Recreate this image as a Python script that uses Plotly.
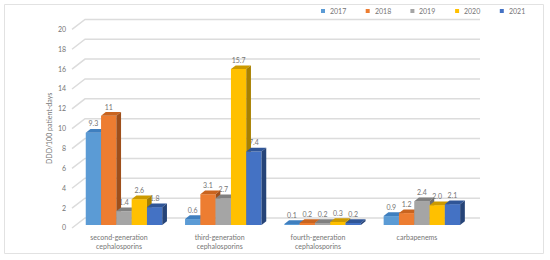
import plotly.graph_objects as go

categories = ["second-generation<br>cephalosporins", "third-generation<br>cephalosporins",
              "fourth-generation<br>cephalosporins", "carbapenems"]
years = ["2017", "2018", "2019", "2020", "2021"]
v2017 = [9.3, 0.6, 0.1, 0.9]
v2018 = [11, 3.1, 0.2, 1.2]
v2019 = [1.4, 2.7, 0.2, 2.4]
v2020 = [2.6, 15.7, 0.3, 2.0]
v2021 = [1.8, 7.4, 0.2, 2.1]
series = [v2017, v2018, v2019, v2020, v2021]
labels = [["9.3", "0.6", "0.1", "0.9"], ["11", "3.1", "0.2", "1.2"], ["1.4", "2.7", "0.2", "2.4"],
          ["2.6", "15.7", "0.3", "2.0"], ["1.8", "7.4", "0.2", "2.1"]]
y_ticks = list(range(0, 21, 2))

front = ["#5B9BD5", "#ED7D31", "#A5A5A5", "#FFC000", "#4472C4"]
top = ["#3F7FBF", "#C9641F", "#808080", "#CC9A00", "#2F5597"]
side = ["#2E6DA8", "#9E4F1B", "#6E6E6E", "#A88000", "#264478"]
TXT = "#757575"
FONT = "Lato"
FS = 7

W, H = 550, 260
X0, STEP = 124.0, 99.3      # pixel of first group centre, pixels between groups
Y0, UNIT = 225.0, 9.93      # pixel of the bar baseline, pixels per value unit
BW = 15.3 / STEP
DX, DY = 4.7 / STEP, 3.7 / UNIT

def px_x(p):
    return (p - X0) / STEP

fig = go.Figure()

# back wall: gridlines with the diagonal run to the front plane
gx, gy = [], []
for t in y_ticks:
    gx += [px_x(72), px_x(85), px_x(480), None]
    gy += [t - 3 / UNIT, t + 7 / UNIT, t + 7 / UNIT, None]
fig.add_trace(go.Scatter(x=gx, y=gy, mode="lines", line=dict(color="#DCDCDC", width=1.5),
                         hoverinfo="skip", showlegend=False))

# value labels sit behind all the bars, as in the reference
for i, vals in enumerate(series):
    fig.add_trace(go.Scatter(x=[k + (i - 2) * BW for k in range(4)],
                             y=[v + 8 / UNIT for v in vals], mode="text", text=labels[i],
                             textposition="middle center",
                             textfont=dict(family=FONT, size=FS, color=TXT),
                             hoverinfo="skip", showlegend=False))

# invisible trace that carries the tick-label axis
fig.add_trace(go.Scatter(x=[0], y=[0], yaxis="y2", mode="markers", marker=dict(opacity=0),
                         hoverinfo="skip", showlegend=False))

# one overlay per series so later series paint over earlier ones
for i, vals in enumerate(series):
    ya = f"y{i + 3}"
    fig.add_trace(go.Bar(x=[k + (i - 2) * BW for k in range(4)], y=vals, width=BW, yaxis=ya, name=years[i],
                         marker=dict(color=front[i], line=dict(width=0)), showlegend=False))
    for k, v in enumerate(vals):
        xl = k + (i - 2) * BW - BW / 2
        xr = xl + BW
        fig.add_trace(go.Scatter(x=[xl, xl + DX, xr + DX, xr, xl], y=[v, v + DY, v + DY, v, v], yaxis=ya,
                                 mode="lines", fill="toself", fillcolor=top[i], line=dict(width=0),
                                 hoverinfo="skip", showlegend=False))
        fig.add_trace(go.Scatter(x=[xr, xr + DX, xr + DX, xr, xr], y=[0, DY, v + DY, v, 0], yaxis=ya,
                                 mode="lines", fill="toself", fillcolor=side[i], line=dict(width=0),
                                 hoverinfo="skip", showlegend=False))

y_range = [(Y0 - H) / UNIT, Y0 / UNIT]
layout = dict(
    width=W, height=H, margin=dict(l=0, r=0, t=0, b=0),
    paper_bgcolor="white", plot_bgcolor="rgba(0,0,0,0)", showlegend=False, barmode="overlay",
    font=dict(family=FONT, size=FS, color=TXT),
    xaxis=dict(range=[px_x(0), px_x(W)], domain=[0, 1], anchor="free", position=(H - 232) / H,
               tickmode="array", tickvals=[px_x(119), px_x(219.7), px_x(318), px_x(417)],
               ticktext=categories, showgrid=False, zeroline=False, showline=False, ticks="",
               tickfont=dict(family=FONT, size=FS, color=TXT), fixedrange=True),
    yaxis=dict(range=y_range, domain=[0, 1], visible=False, fixedrange=True),
    yaxis2=dict(range=[(228 - H) / UNIT, (228 - 3) / UNIT], domain=[0, 1 - 3 / H], anchor="free",
                position=66 / W, side="left", tickmode="array", tickvals=y_ticks, showgrid=False,
                zeroline=False, showline=False, ticks="", tickfont=dict(family=FONT, size=FS, color=TXT),
                fixedrange=True),
)
for i in range(5):
    layout[f"yaxis{i + 3}"] = dict(range=y_range, overlaying="y", visible=False, fixedrange=True)

shapes = [dict(type="rect", xref="paper", yref="paper", x0=4.5 / W, x1=543.5 / W, y0=1 - 253.5 / H, y1=1 - 4.5 / H,
               line=dict(color="#E2E2E2", width=1), fillcolor="rgba(0,0,0,0)", layer="below")]
annotations = [dict(text="DDD/100 patient-days", xref="paper", yref="paper", x=49 / W, y=1 - 129 / H,
                    xanchor="center", yanchor="middle",
                    textangle=-90, showarrow=False, font=dict(family=FONT, size=FS, color=TXT))]
for i, yr in enumerate(years):
    cx = 323 + i * 44.7
    shapes.append(dict(type="rect", xref="paper", yref="paper", x0=(cx - 2) / W, x1=(cx + 2) / W,
                       y0=1 - 13 / H, y1=1 - 9 / H, fillcolor=front[i], line=dict(width=0)))
    annotations.append(dict(text=yr, xref="paper", yref="paper", x=(cx + 5) / W, y=1 - 11 / H, xanchor="left",
                            yanchor="middle", showarrow=False, font=dict(family=FONT, size=FS, color=TXT)))
layout["shapes"] = shapes
layout["annotations"] = annotations
fig.update_layout(**layout)
fig.write_html("out.html", config={"displayModeBar": False},
               post_script="document.body.style.margin='0';document.documentElement.style.overflow='hidden';")
